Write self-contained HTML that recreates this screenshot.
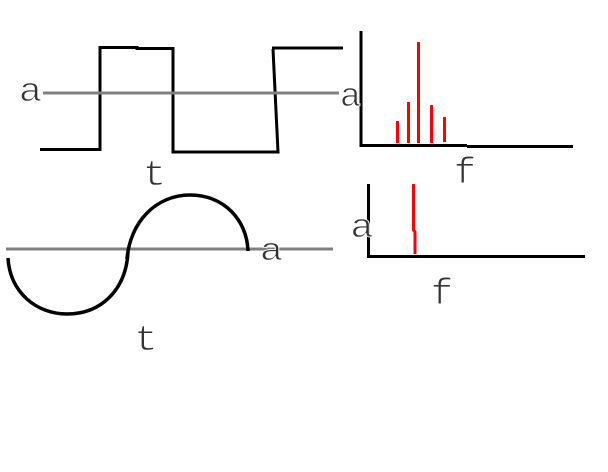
<!DOCTYPE html>
<html>
<head>
<meta charset="utf-8">
<style>
  html, body { margin: 0; padding: 0; background: #fff; }
  svg { display: block; }
  text { font-family: "Liberation Mono", monospace; font-size: 34px; fill: #333; stroke: #fff; stroke-width: 0.9px; }
</style>
</head>
<body>
<svg width="608" height="472" viewBox="0 0 608 472" xmlns="http://www.w3.org/2000/svg">
  <rect width="608" height="472" fill="#fff"/>

  <!-- Square wave -->
  <path d="M40,149.5 L100,149.5 L100,47.5 L137,47.5 L137,48.5 L173,48.5 L173,152 L278,152 L273,49" fill="none" stroke="#000" stroke-width="3" stroke-linejoin="miter"/>
  <path d="M272,48 L343,48" fill="none" stroke="#000" stroke-width="3"/>
  <line x1="43" y1="93" x2="339" y2="93" stroke="#808080" stroke-width="3"/>

  <!-- Top spectrum axes -->
  <path d="M361,31 L361,145.5 L467,145.5" fill="none" stroke="#000" stroke-width="3"/>
  <path d="M467,146.5 L573,146.5" fill="none" stroke="#000" stroke-width="3"/>
  <!-- Red bars -->
  <line x1="397.5" y1="121" x2="397.5" y2="143" stroke="#f00" stroke-width="3"/>
  <line x1="408.5" y1="102" x2="408.5" y2="143" stroke="#f00" stroke-width="3"/>
  <line x1="418.5" y1="42" x2="418.5" y2="143" stroke="#f00" stroke-width="3"/>
  <line x1="431.5" y1="105" x2="431.5" y2="143" stroke="#f00" stroke-width="3"/>
  <line x1="444.5" y1="117" x2="444.5" y2="142" stroke="#f00" stroke-width="3"/>

  <!-- Sine wave -->
  <line x1="6" y1="249" x2="333" y2="249" stroke="#808080" stroke-width="3"/>
  <path d="M8,258 C10,292 36,314 67,314 C101,314 126,290 128,252" fill="none" stroke="#000" stroke-width="3.5"/>
  <path d="M127,259 C130,222 156,195 190,195 C224,195 247,220 248,251" fill="none" stroke="#000" stroke-width="3.5"/>

  <!-- Bottom spectrum -->
  <path d="M368.5,184 L368.5,256.5 L585,256.5" fill="none" stroke="#000" stroke-width="3"/>
  <path d="M413.5,184 L413.5,230 L415,232 L415,254" fill="none" stroke="#f00" stroke-width="3"/>

  <!-- Labels -->
  <text transform="translate(30.5,101) scale(1.15,1)" text-anchor="middle">a</text>
  <text transform="translate(350.5,106) scale(1.05,1)" text-anchor="middle">a</text>
  <text transform="translate(154.5,185) scale(1.15,1.05)" text-anchor="middle">t</text>
  <text transform="translate(465,183) scale(1.1,1.1)" text-anchor="middle">f</text>
  <text transform="translate(271.5,260) scale(1.15,0.95)" text-anchor="middle">a</text>
  <text transform="translate(362,237) scale(1.15,1)" text-anchor="middle">a</text>
  <text transform="translate(146,350) scale(1.15,1.05)" text-anchor="middle">t</text>
  <text transform="translate(442,304) scale(1.1,1.1)" text-anchor="middle">f</text>
</svg>
</body>
</html>
